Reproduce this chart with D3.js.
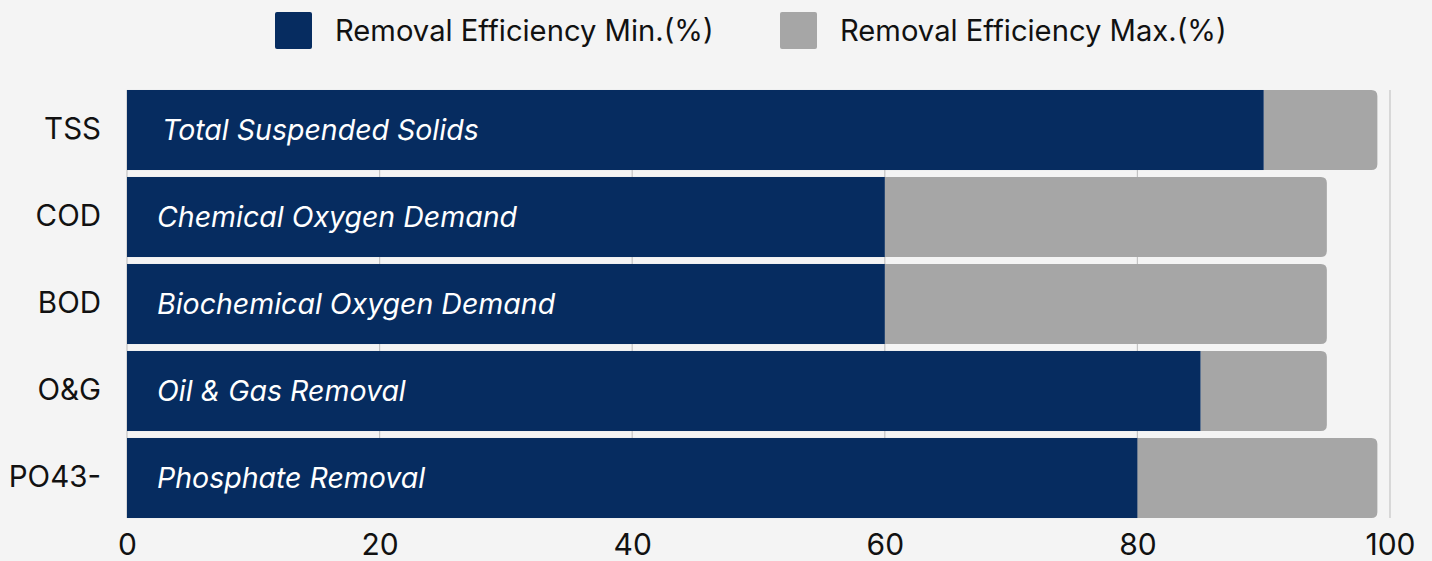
<!DOCTYPE html>
<html>
<head>
<meta charset="utf-8">
<script src="https://cdn.jsdelivr.net/npm/d3@7"></script>
<style>
  body { margin: 0; background: #f4f4f4; }
  svg { display: block; font-family: Inter, "Noto Sans", sans-serif; }
</style>
</head>
<body>
<svg id="chart" width="1432" height="561"></svg>
<script>
// data
var codes = ["TSS", "COD", "BOD", "O&G", "PO43-"];
var names = ["Total Suspended Solids", "Chemical Oxygen Demand", "Biochemical Oxygen Demand", "Oil & Gas Removal", "Phosphate Removal"];
var minVals = [90, 60, 60, 85, 80];
var maxVals = [99, 95, 95, 95, 99];
var xTicks = [0, 20, 40, 60, 80, 100];
var seriesNames = ["Removal Efficiency Min.(%)", "Removal Efficiency Max.(%)"];
var colors = ["#062c60", "#a6a6a6"];

var rows = codes.map(function (c, i) {
  return { code: c, name: names[i], min: minVals[i], max: maxVals[i] };
});

var svg = d3.select("#chart");

var x = d3.scaleLinear().domain([0, 100]).range([127, 1390]);
var y = d3.scaleBand().domain(codes).range([86.5, 521.5]).paddingInner(0.08).paddingOuter(0.04);

// gridlines
svg.append("g")
  .selectAll("line")
  .data(xTicks)
  .enter()
  .append("line")
  .attr("x1", function (d) { return x(d); })
  .attr("x2", function (d) { return x(d); })
  .attr("y1", 90)
  .attr("y2", 518)
  .attr("stroke", "#c4c4c4")
  .attr("stroke-width", 1.2);

// max bars (rounded right end), drawn behind
var r = 6;
svg.append("g")
  .selectAll("path")
  .data(rows)
  .enter()
  .append("path")
  .attr("fill", colors[1])
  .attr("d", function (d) {
    var x0 = x(d.min), x1 = x(d.max), y0 = y(d.code), h = y.bandwidth();
    return "M" + x0 + "," + y0 +
      "H" + (x1 - r) + "Q" + x1 + "," + y0 + " " + x1 + "," + (y0 + r) +
      "V" + (y0 + h - r) + "Q" + x1 + "," + (y0 + h) + " " + (x1 - r) + "," + (y0 + h) +
      "H" + x0 + "Z";
  });

// min bars
svg.append("g")
  .selectAll("rect")
  .data(rows)
  .enter()
  .append("rect")
  .attr("x", x(0))
  .attr("y", function (d) { return y(d.code); })
  .attr("width", function (d) { return x(d.min) - x(0); })
  .attr("height", y.bandwidth())
  .attr("fill", colors[0]);

// labels inside bars
svg.append("g")
  .selectAll("text")
  .data(rows)
  .enter()
  .append("text")
  .attr("x", function (d, i) { return i === 0 ? 162 : 157; })
  .attr("y", function (d) { return y(d.code) + y.bandwidth() / 2; })
  .attr("dy", "0.35em")
  .attr("fill", "#ffffff")
  .attr("font-style", "italic")
  .attr("font-size", 28.5)
  .text(function (d) { return d.name; });

// y axis labels
var yAxis = svg.append("g")
  .attr("transform", "translate(127,0)")
  .call(d3.axisLeft(y).tickSize(0).tickPadding(26));
yAxis.select(".domain").remove();
yAxis.selectAll("text")
  .attr("font-size", 29.5)
  .attr("font-family", "Inter, sans-serif")
  .attr("fill", "#111");

// x axis labels
var xAxis = svg.append("g")
  .attr("transform", "translate(0,518)")
  .call(d3.axisBottom(x).tickValues(xTicks).tickSize(0).tickPadding(16));
xAxis.select(".domain").remove();
xAxis.selectAll("text")
  .attr("font-size", 30)
  .attr("font-family", "Inter, sans-serif")
  .attr("fill", "#111");

// legend
var legendX = [275, 780];
var legend = svg.append("g")
  .selectAll("g")
  .data(seriesNames)
  .enter()
  .append("g")
  .attr("transform", function (d, i) { return "translate(" + legendX[i] + ",12)"; });
legend.append("rect")
  .attr("width", 37)
  .attr("height", 37)
  .attr("rx", 2)
  .attr("fill", function (d, i) { return colors[i]; });
legend.append("text")
  .attr("x", 60)
  .attr("y", 19)
  .attr("dy", "0.35em")
  .attr("font-size", 29.2)
  .attr("fill", "#111")
  .text(function (d) { return d; });
</script>
</body>
</html>
